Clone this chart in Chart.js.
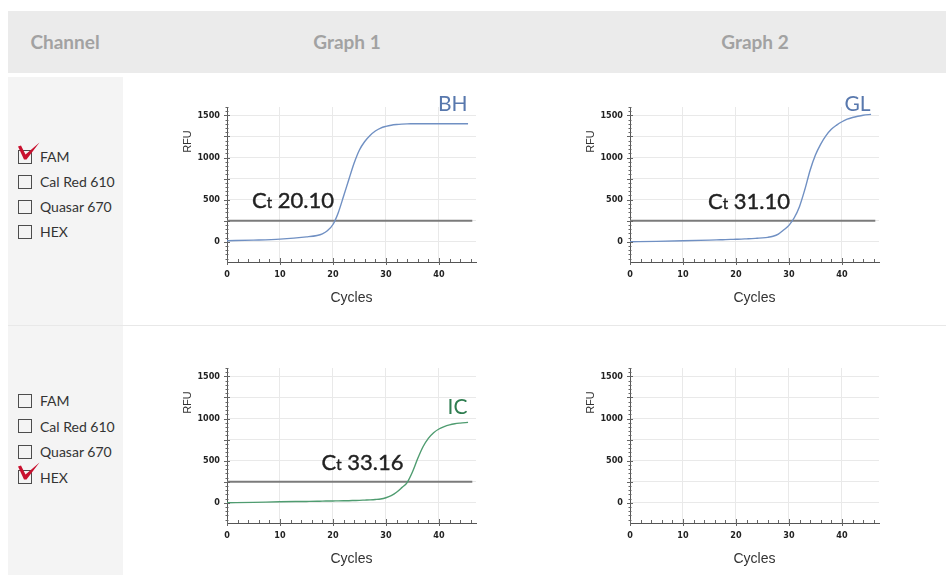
<!DOCTYPE html>
<html>
<head>
<meta charset="utf-8">
<script src="https://cdn.jsdelivr.net/npm/chart.js@4.4.1/dist/chart.umd.min.js"></script>
<style>
  html, body { margin: 0; padding: 0; background: #fff; }
  body { position: relative; width: 946px; height: 575px; overflow: hidden; font-family: Lato, "Open Sans", sans-serif; }
  .header { position: absolute; left: 8px; top: 11px; width: 938px; height: 62px; background: #ebebeb; }
  .header span { position: absolute; top: 0; line-height: 62px; font-size: 19px; font-weight: 700; color: #a2a2a2; transform: translateX(-50%); white-space: nowrap; }
  .side { position: absolute; left: 8px; width: 115px; background: #f4f4f4; }
  .sep { position: absolute; left: 8px; top: 325px; width: 938px; height: 1px; background: #e8e8e8; }
  .box { position: absolute; left: 18px; width: 12px; height: 12px; border: 1.5px solid #4d4d4d; }
  .lbl { position: absolute; left: 40px; height: 20px; line-height: 20px; font-size: 14px; color: #333; white-space: nowrap; }
  .check { position: absolute; left: 18px; width: 24px; height: 20px; }
  canvas { position: absolute; }
</style>
</head>
<body>
<div class="header" id="header"></div>
<div class="side" style="top:77px;height:248px"></div>
<div class="side" style="top:326px;height:249px"></div>
<div class="sep"></div>
<div id="channels"></div>
<canvas id="g1" width="310" height="225" style="left:170px;top:90px"></canvas>
<canvas id="g2" width="310" height="225" style="left:573px;top:90px"></canvas>
<canvas id="g3" width="310" height="225" style="left:170px;top:351px"></canvas>
<canvas id="g4" width="310" height="225" style="left:573px;top:351px"></canvas>
<script>
// Datos
const cycles = [0, 5, 10, 15, 17, 18, 19, 20, 21, 22, 23, 24, 25, 26, 27, 28, 29, 30, 31, 32, 33, 34, 35, 36, 37, 38, 39, 40, 41, 42, 43, 44, 45.5];
const bhRFU = [12, 20, 32, 58, 75, 95, 135, 205, 345, 540, 740, 935, 1090, 1190, 1262, 1315, 1350, 1370, 1384, 1392, 1397, 1400, 1401, 1402, 1402, 1402, 1402, 1402, 1402, 1402, 1402, 1402, 1402];
const glRFU = [0, 5, 12, 20, 24, 26, 28, 30, 32, 35, 38, 42, 46, 53, 66, 92, 140, 195, 285, 420, 620, 850, 1030, 1160, 1260, 1335, 1385, 1425, 1455, 1475, 1490, 1502, 1512];
const icRFU = [0, 5, 12, 16, 18, 20, 21, 22, 23, 24, 25, 27, 29, 32, 35, 39, 45, 60, 85, 125, 180, 240, 365, 525, 665, 765, 832, 876, 905, 925, 938, 946, 955];
const thresholdCycles = [0, 46.3];
const thresholdRFU = [250, 250];
const xTicks = [0, 10, 20, 30, 40];
const yGrid = [0, 250, 500, 750, 1000, 1250, 1500];
const yTickLabels = [0, 500, 1000, 1500];
const targets = ['BH', 'GL', 'IC'];
const ctValues = ['20.10', '31.10', '33.16'];
const channels = ['FAM', 'Cal Red 610', 'Quasar 670', 'HEX'];
const rowChecked = [0, 3];
const headers = ['Channel', 'Graph 1', 'Graph 2'];

const Panel = {
    tickFont: { family: '"DejaVu Sans Condensed", "Liberation Sans Narrow", sans-serif', size: 9, weight: 'bold' },

    init() {
        this.layoutModule.render();
        this.chartModule.init();
    },

    // --- Cabecera y casillas ---
    layoutModule: {
        render() {
            const centers = [65, 347, 755];
            document.getElementById('header').innerHTML = headers
                .map((h, i) => `<span style="left:${centers[i] - 8}px">${h}</span>`).join('');

            const rows = [{ start: 157, pitch: 25 }, { start: 401, pitch: 25.5 }];
            let html = '';
            rows.forEach((row, r) => {
                channels.forEach((name, i) => {
                    const cy = row.start + i * row.pitch;
                    html += `<div class="box" style="top:${cy - 7.5}px"></div>`;
                    html += `<div class="lbl" style="top:${cy - 10}px">${name}</div>`;
                    if (rowChecked[r] === i) {
                        html += `<svg class="check" style="top:${cy - 15.5}px" viewBox="0 0 24 20">
                            <polygon points="0,4.5 3,3.5 7.5,12.5 21.5,0.5 8.5,17.5 6,17.5" fill="#c8102e"/></svg>`;
                    }
                });
            });
            document.getElementById('channels').innerHTML = html;
        }
    },

    // --- Graficos ---
    chartModule: {
        // marcas menores de los ejes y titulo RFU
        axisPlugin: {
            id: 'ejes',
            afterDraw(chart) {
                const { ctx, chartArea, scales: { x, y } } = chart;
                ctx.save();
                ctx.strokeStyle = '#666';
                ctx.lineWidth = 1;
                ctx.beginPath();
                for (let v = -200; v <= 1600; v += 50) {
                    const py = Math.round(y.getPixelForValue(v)) + 0.5;
                    const len = v % 250 === 0 ? 3 : 1.5;
                    ctx.moveTo(chartArea.left - len, py);
                    ctx.lineTo(chartArea.left + len, py);
                }
                for (let c = 0; c <= 46; c += 2) {
                    const px = Math.round(x.getPixelForValue(c)) + 0.5;
                    const major = c % 10 === 0;
                    ctx.moveTo(px, chartArea.bottom - (major ? 4 : 3));
                    ctx.lineTo(px, chartArea.bottom + (major ? 3 : 0));
                }
                ctx.stroke();

                ctx.translate(chartArea.left - 39, y.getPixelForValue(1190));
                ctx.rotate(-Math.PI / 2);
                ctx.font = '11px "Liberation Sans", Arial, sans-serif';
                ctx.fillStyle = '#333';
                ctx.textAlign = 'center';
                ctx.textBaseline = 'middle';
                ctx.fillText('RFU', 0, 0);
                ctx.restore();
            }
        },

        // nombre de la diana y etiqueta Ct
        notePlugin: {
            id: 'nota',
            afterDatasetsDraw(chart, args, opts) {
                const { ctx, scales: { x, y } } = chart;
                ctx.save();
                ctx.textBaseline = 'alphabetic';
                ctx.font = '21px Lato, sans-serif';
                ctx.fillStyle = opts.color;
                ctx.textAlign = 'right';
                ctx.fillText(opts.name, x.getPixelForValue(opts.nameAt[0]), y.getPixelForValue(opts.nameAt[1]));

                const big = '22px Lato, sans-serif';
                const small = '15px Lato, sans-serif';
                const rest = ' ' + opts.ct;
                ctx.font = big;
                const wC = ctx.measureText('C').width;
                const wRest = ctx.measureText(rest).width;
                ctx.font = small;
                const wt = ctx.measureText('t').width;
                let px = x.getPixelForValue(opts.ctAt[0]) - (wC + wt + wRest);
                const py = y.getPixelForValue(opts.ctAt[1]);
                ctx.textAlign = 'left';
                ctx.fillStyle = '#222';
                ctx.strokeStyle = '#222';
                ctx.lineWidth = 0.4;
                ctx.font = big;
                ctx.fillText('C', px, py);
                ctx.strokeText('C', px, py);
                px += wC;
                ctx.font = small;
                ctx.fillText('t', px, py);
                ctx.strokeText('t', px, py);
                px += wt;
                ctx.font = big;
                ctx.fillText(rest, px, py);
                ctx.strokeText(rest, px, py);
                ctx.restore();
            }
        },

        points(xs, ys) {
            return xs.map((c, i) => ({ x: c, y: ys[i] }));
        },

        curve(values, color) {
            return {
                data: this.points(cycles, values),
                borderColor: color,
                borderWidth: 1.4,
                pointRadius: 0,
                cubicInterpolationMode: 'monotone'
            };
        },

        threshold() {
            return {
                data: this.points(thresholdCycles, thresholdRFU),
                borderColor: '#7b7b7b',
                borderWidth: 2,
                pointRadius: 0
            };
        },

        make(id, datasets, note) {
            const font = Panel.tickFont;
            return new Chart(document.getElementById(id), {
                type: 'line',
                data: { datasets },
                options: {
                    responsive: false,
                    animation: false,
                    devicePixelRatio: 1,
                    layout: { padding: { top: 17, right: 4, left: 0, bottom: 0 } },
                    plugins: { legend: { display: false }, tooltip: { enabled: false }, nota: note },
                    scales: {
                        x: {
                            type: 'linear', min: 0, max: 47,
                            afterBuildTicks: s => { s.ticks = xTicks.map(v => ({ value: v })); },
                            afterFit: s => { s.height = 53; },
                            grid: { color: '#e9e9e9', drawTicks: false },
                            border: { color: '#555', width: 1 },
                            ticks: { font, color: '#222', padding: 7, autoSkip: false, maxRotation: 0 },
                            title: {
                                display: true, text: 'Cycles', color: '#333',
                                font: { family: '"Liberation Sans", Arial, sans-serif', size: 14 },
                                padding: { top: 0, bottom: 8.6 }
                            }
                        },
                        y: {
                            type: 'linear', min: -240, max: 1600,
                            afterBuildTicks: s => { s.ticks = yGrid.map(v => ({ value: v })); },
                            afterFit: s => { s.width = 57; },
                            grid: { color: '#e9e9e9', drawTicks: false },
                            border: { color: '#555', width: 1 },
                            ticks: {
                                font, color: '#222', padding: 7,
                                callback: v => yTickLabels.includes(v) ? String(v) : ''
                            }
                        }
                    }
                },
                plugins: [this.axisPlugin, this.notePlugin]
            });
        },

        init() {
            this.make('g1', [this.curve(bhRFU, '#7090c3'), this.threshold()],
                { name: targets[0], color: '#5878ad', nameAt: [45.4, 1552], ct: ctValues[0], ctAt: [20.2, 400] });
            this.make('g2', [this.curve(glRFU, '#7090c3'), this.threshold()],
                { name: targets[1], color: '#5878ad', nameAt: [45.4, 1552], ct: ctValues[1], ctAt: [30.2, 388] });
            this.make('g3', [this.curve(icRFU, '#4f9c70'), this.threshold()],
                { name: targets[2], color: '#2f7d50', nameAt: [45.4, 1055], ct: ctValues[2], ctAt: [33.3, 390] });
            this.make('g4', [], false);
        }
    }
};

window.onload = () => Panel.init();
</script>
</body>
</html>
